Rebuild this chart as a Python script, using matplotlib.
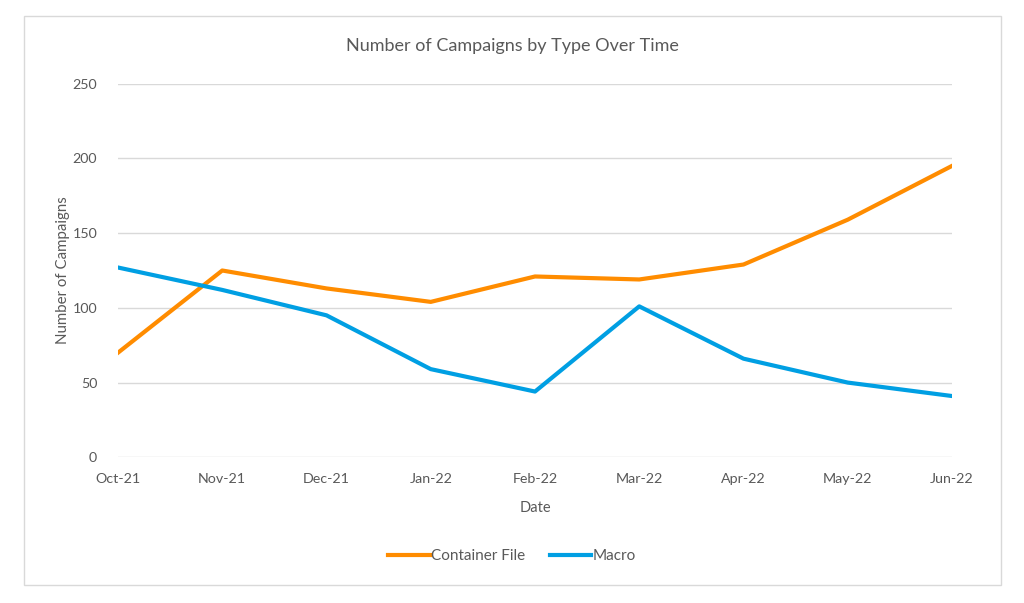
import matplotlib
matplotlib.use("Agg")
import matplotlib.pyplot as plt
from matplotlib.patches import Rectangle

months = ["Oct-21", "Nov-21", "Dec-21", "Jan-22", "Feb-22",
          "Mar-22", "Apr-22", "May-22", "Jun-22"]
container_file = [70, 125, 113, 104, 121, 119, 129, 159, 195]
macro = [127, 112, 95, 59, 44, 101, 66, 50, 41]
y_ticks = [0, 50, 100, 150, 200, 250]

plt.rcParams["font.family"] = ["Lato", "DejaVu Sans"]
text_col = "#595959"

fig = plt.figure(figsize=(10.24, 6.03), dpi=100)
fig.patch.set_facecolor("white")
# light chart frame like the spreadsheet chart box
fig.patches.append(Rectangle((24 / 1024, 1 - 585 / 603), 977 / 1024, 569 / 603,
                             transform=fig.transFigure, fill=False,
                             edgecolor="#d9d9d9", linewidth=1))

ax = fig.add_axes([118 / 1024, 1 - 457.3 / 603, 834 / 1024, 373.6 / 603])
x = list(range(len(months)))
ax.plot(x, container_file, color="#FF8C00", linewidth=3, label="Container File",
        solid_joinstyle="round", zorder=3)
ax.plot(x, macro, color="#009FE3", linewidth=3, label="Macro",
        solid_joinstyle="round", zorder=3)

ax.set_xlim(0, len(months) - 1)
ax.set_ylim(0, 250)
ax.set_yticks(y_ticks)
ax.set_xticks(x)
ax.set_xticklabels(months)
for s in ax.spines.values():
    s.set_visible(False)
ax.grid(axis="y", color="#d9d9d9", linewidth=1)
ax.set_axisbelow(True)
ax.tick_params(length=0, labelsize=10.3, colors=text_col, pad=11)
ax.tick_params(axis="y", pad=15)

ax.set_xlabel("Date", fontsize=10.5, color=text_col, labelpad=12)
ax.set_ylabel("Number of Campaigns", fontsize=10.8, color=text_col, labelpad=2)
fig.text(0.5, 1 - 46 / 603, "Number of Campaigns by Type Over Time",
         ha="center", va="center", fontsize=13, color=text_col)

fig.legend(loc="center", bbox_to_anchor=(0.5, 1 - 556 / 603), ncol=2,
           frameon=False, fontsize=11, labelcolor=text_col,
           handlelength=2.7, handletextpad=0.1, columnspacing=1.6)

plt.savefig("out.png", dpi=100, facecolor="white")
plt.close(fig)
